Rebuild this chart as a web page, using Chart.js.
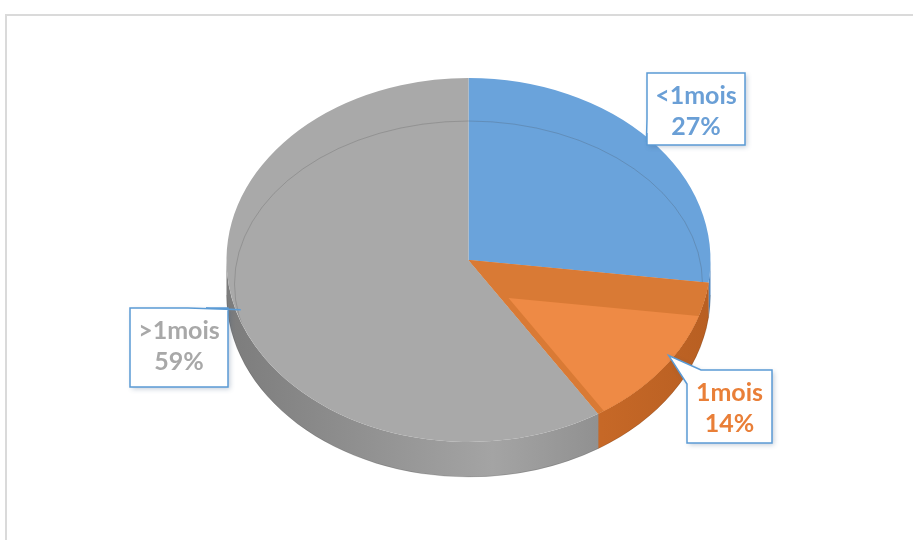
<!DOCTYPE html>
<html>
<head>
<meta charset="utf-8">
<script src="https://cdn.jsdelivr.net/npm/chart.js@4.4.0/dist/chart.umd.min.js"></script>
<style>
  html, body { margin: 0; padding: 0; background: #fff; }
  #wrap { position: relative; width: 913px; height: 540px; }
</style>
</head>
<body>
<div id="wrap"><canvas id="chart" width="913" height="540"></canvas></div>
<script>
const labels = ['<1mois', '1mois', '>1mois'];
const values = [27, 14, 59];
const topColors = ['#6aa3db', '#d97a35', '#a9a9a9'];
const sideColors = [['#4f86bf', '#6a9fd6'], ['#b85f22', '#d4712c'], ['#7c7c7c', '#a4a4a4']];
const textColors = ['#6a9fd6', '#e97f38', '#a8a8a8'];

// look of the 3D disc
const TILT = 0.752;
const DEPTH = 35;
const TOP_Y = 260;

// callout boxes (x, y, w, h) and where the pointer leaves the box
const boxes = [
  { x: 647, y: 73, w: 98, h: 72, side: 'left' },
  { x: 687, y: 370, w: 85, h: 73, side: 'corner' },
  { x: 130, y: 308, w: 98, h: 79, side: 'top' },
];

function geom(chart) {
  const arcs = chart.getDatasetMeta(0).data;
  const a0 = arcs[0];
  return { arcs, cx: a0.x, cy: a0.y, r: a0.outerRadius };
}

function sidePath(ctx, cx, r, a, b) {
  ctx.beginPath();
  ctx.ellipse(cx, TOP_Y, r, r * TILT, 0, a, b, false);
  ctx.ellipse(cx, TOP_Y + DEPTH, r, r * TILT, 0, b, a, true);
  ctx.closePath();
}

function wedgePath(ctx, cx, r, a, b, dx, dy) {
  ctx.beginPath();
  ctx.moveTo(cx + dx, TOP_Y + dy);
  ctx.ellipse(cx + dx, TOP_Y + dy, r, r * TILT, 0, a, b, false);
  ctx.closePath();
}

const pie3d = {
  id: 'pie3d',
  beforeDraw(chart) {
    const ctx = chart.ctx;
    ctx.save();
    ctx.strokeStyle = '#dadada';
    ctx.lineWidth = 2;
    ctx.beginPath();
    ctx.moveTo(6, 540);
    ctx.lineTo(6, 15);
    ctx.lineTo(913, 15);
    ctx.stroke();
    ctx.restore();
  },
  beforeDatasetsDraw(chart) {
    const ctx = chart.ctx;
    const { arcs, cx, cy, r } = geom(chart);
    ctx.save();
    arcs.forEach((arc, i) => {
      const a = Math.max(arc.startAngle, 0);
      const b = Math.min(arc.endAngle, Math.PI);
      if (a >= b) return;
      const g = ctx.createLinearGradient(cx - r, 0, cx + r, 0);
      g.addColorStop(0, sideColors[i][0]);
      g.addColorStop(0.55, sideColors[i][1]);
      g.addColorStop(1, sideColors[i][0]);
      sidePath(ctx, cx, r, a, b);
      ctx.fillStyle = g;
      ctx.fill();
      // seam between slices on the side
      const ex = cx + r * Math.cos(b), ey = TOP_Y + r * TILT * Math.sin(b);
      if (b < Math.PI) {
        ctx.strokeStyle = 'rgba(0,0,0,0.18)';
        ctx.lineWidth = 1;
        ctx.beginPath();
        ctx.moveTo(ex, ey);
        ctx.lineTo(ex, ey + DEPTH);
        ctx.stroke();
      }
    });
    // bottom outline
    ctx.strokeStyle = 'rgba(0,0,0,0.12)';
    ctx.beginPath();
    ctx.ellipse(cx, TOP_Y + DEPTH, r, r * TILT, 0, 0, Math.PI, false);
    ctx.stroke();
    ctx.restore();

    // squash the library's own pie into an ellipse
    ctx.save();
    ctx.translate(cx, TOP_Y);
    ctx.scale(1, TILT);
    ctx.translate(-cx, -cy);
  },
  afterDatasetsDraw(chart) {
    const ctx = chart.ctx;
    ctx.restore();
    const { arcs, cx, r } = geom(chart);

    // faint bevel ring on the top face
    ctx.save();
    ctx.beginPath();
    ctx.ellipse(cx, TOP_Y, r, r * TILT, 0, 0, Math.PI * 2);
    ctx.clip();
    ctx.strokeStyle = 'rgba(70,70,70,0.22)';
    ctx.lineWidth = 1;
    ctx.beginPath();
    ctx.ellipse(cx, TOP_Y + 24, r - 8, r * TILT - 19, 0, 0, Math.PI * 2);
    ctx.stroke();
    ctx.restore();

    // orange slice: darker walls with the lighter top face inset
    const o = arcs[1];
    ctx.save();
    wedgePath(ctx, cx, r, o.startAngle, o.endAngle, 0, 0);
    ctx.fillStyle = topColors[1];
    ctx.fill();
    ctx.clip();
    wedgePath(ctx, cx, r + 40, o.startAngle, o.endAngle, 40, 38);
    ctx.fillStyle = '#ee8a45';
    ctx.fill();
    ctx.restore();

    // callouts
    arcs.forEach((arc, i) => {
      const mid = (arc.startAngle + arc.endAngle) / 2;
      const tx = cx + r * 0.98 * Math.cos(mid);
      const ty = TOP_Y + r * 0.98 * TILT * Math.sin(mid);
      const b = boxes[i];
      const x = b.x, y = b.y, w = b.w, h = b.h;
      let pts;
      if (b.side === 'left') {
        pts = [[x, y], [x + w, y], [x + w, y + h], [x, y + h], [x, y + h - 12], [tx, ty], [x, y + h - 26]];
      } else if (b.side === 'top') {
        pts = [[x, y], [x + 58, y], [tx, ty], [x + 76, y], [x + w, y], [x + w, y + h], [x, y + h]];
      } else {
        pts = [[x, y + 14], [tx, ty], [x + 14, y], [x + w, y], [x + w, y + h], [x, y + h]];
      }
      ctx.save();
      ctx.beginPath();
      pts.forEach((p, k) => (k ? ctx.lineTo(p[0], p[1]) : ctx.moveTo(p[0], p[1])));
      ctx.closePath();
      ctx.shadowColor = 'rgba(60,90,130,0.3)';
      ctx.shadowBlur = 5;
      ctx.shadowOffsetX = 2;
      ctx.shadowOffsetY = 2;
      ctx.fillStyle = '#ffffff';
      ctx.fill();
      ctx.shadowColor = 'transparent';
      ctx.strokeStyle = '#5b9bd5';
      ctx.lineWidth = 1.5;
      ctx.stroke();

      const total = values.reduce((s, v) => s + v, 0);
      const pct = Math.round(values[i] / total * 100) + '%';
      ctx.fillStyle = textColors[i];
      ctx.font = 'bold 25px Lato, "Noto Sans", sans-serif';
      ctx.textAlign = 'center';
      ctx.textBaseline = 'middle';
      ctx.fillText(labels[i], x + w / 2, y + 23);
      ctx.fillText(pct, x + w / 2, y + 54);
      ctx.restore();
    });
  }
};

new Chart(document.getElementById('chart'), {
  type: 'pie',
  data: {
    labels: labels,
    datasets: [{
      data: values,
      backgroundColor: topColors,
      borderWidth: 0,
      hoverBorderWidth: 0,
      hoverOffset: 0,
    }],
  },
  options: {
    responsive: false,
    animation: false,
    events: [],
    layout: { padding: { left: 31, right: 7, top: 28, bottom: 28 } },
    plugins: {
      legend: { display: false },
      tooltip: { enabled: false },
      title: { display: false },
    },
  },
  plugins: [pie3d],
});
</script>
</body>
</html>
